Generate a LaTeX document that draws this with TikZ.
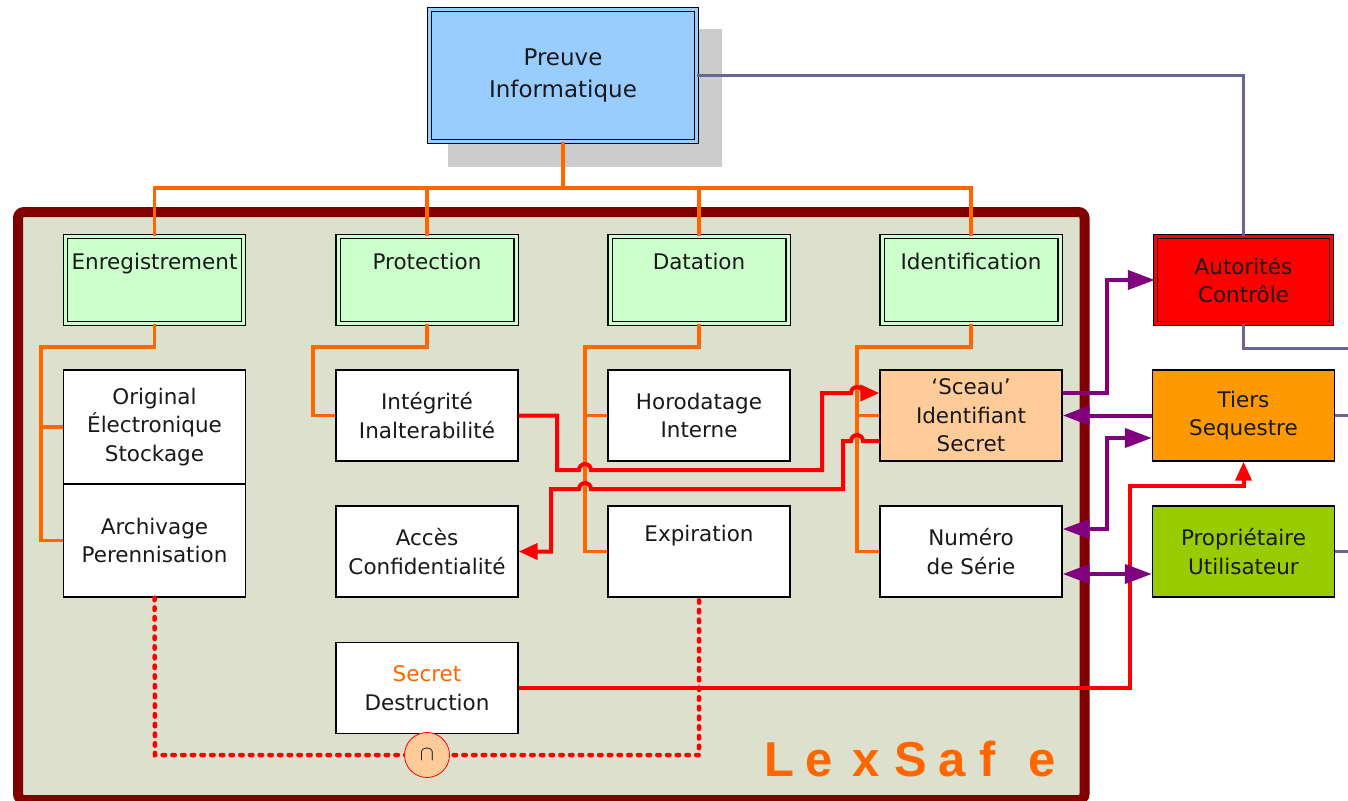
\documentclass[tikz,border=0pt]{standalone}
\usepackage{fontspec}
\setmainfont{DejaVu Sans}
\newfontfamily\lexfont{Liberation Sans}
\usetikzlibrary{arrows.meta}
\definecolor{lsorange}{HTML}{FF6600}
\definecolor{lsred}{HTML}{FF0000}
\definecolor{lspurple}{HTML}{800080}
\definecolor{lsslate}{HTML}{666699}
\definecolor{lsframe}{HTML}{800000}
\definecolor{lsbg}{HTML}{DDE0CC}
\definecolor{lsgreen}{HTML}{CCFFCC}
\definecolor{lsblue}{HTML}{99CCFF}
\definecolor{lspeach}{HTML}{FFCC99}
\definecolor{lsamber}{HTML}{FF9900}
\definecolor{lslime}{HTML}{99CC00}
\definecolor{lsshadow}{HTML}{CCCCCC}
\begin{document}
\begin{tikzpicture}[x=1pt,y=-1pt,
  boxtext/.style={font=\fontsize{21.5}{28.5}\selectfont, align=center, inner sep=0pt, text=black!90},
  wbox/.style={boxtext, draw=black, line width=1.4, fill=white, minimum width=182, minimum height=91},
  gbox/.style={boxtext, draw=black, line width=1.2, double=lsgreen, double distance=3, fill=lsgreen, minimum width=178, minimum height=87},
  orangeline/.style={draw=lsorange, line width=3.3},
  redline/.style={draw=lsred, line width=4},
  dotline/.style={draw=lsred, line width=4.5, dash pattern=on 2.5pt off 7.2pt, line cap=round},
  purpleline/.style={draw=lspurple, line width=4},
  slateline/.style={draw=lsslate, line width=3},
  redtip/.style={-{Triangle[length=19pt,width=16pt]}},
  ptip/.style={-{Triangle[length=27pt,width=19pt]}},
  pboth/.style={{Triangle[length=27pt,width=19pt]}-{Triangle[length=27pt,width=19pt]}},
  lexletter/.style={font=\lexfont\bfseries\fontsize{49}{49}\selectfont, text=lsorange, anchor=base, inner sep=0pt}
]
\useasboundingbox (0,0) rectangle (1348,800);
\fill[white] (0,0) rectangle (1348,800);

% LexSafe frame
\draw[line width=10, draw=lsframe, fill=lsbg, rounded corners=6] (18,212) rectangle (1084.5,800);

% shadow of the top box
\fill[lsshadow] (448,29) rectangle (722,167);

% top box
\node[boxtext, font=\fontsize{23}{32}\selectfont, draw=black, line width=1.3, double=lsblue, double distance=3, fill=lsblue, minimum width=267, minimum height=132] (preuve) at (563,75.5) {Preuve\\Informatique};

% green boxes
\node[gbox] (enreg) at (154.5,280) {Enregistrement\\\strut};
\node[gbox] (protec) at (427,280) {Protection\\\strut};
\node[gbox] (datat) at (699,280) {Datation\\\strut};
\node[gbox] (ident) at (971,280) {Identification\\\strut};

% white boxes
\node[wbox, minimum height=114] (orig) at (154.5,427) {Original\\Électronique\\Stockage};
\node[wbox, minimum height=113] (arch) at (154.5,540.5) {Archivage\\Perennisation};
\node[wbox] (integ) at (427,415.5) {Intégrité\\Inalterabilité};
\node[wbox] (acces) at (427,551.5) {Accès\\Confidentialité};
\node[wbox] (horo) at (699,415.5) {Horodatage\\Interne};
\node[wbox] (expir) at (699,551.5) {Expiration\\\strut};
\node[wbox, fill=lspeach] (sceau) at (971,415.5) {‘Sceau’\\Identifiant\\Secret};
\node[wbox] (numero) at (971,551.5) {Numéro\\de Série};
\node[wbox] (secret) at (427,688) {{\color{lsorange}Secret}\\Destruction};

% right boxes
\node[boxtext, draw=black, line width=1.3, double=lsred, double distance=3, fill=lsred, minimum width=176, minimum height=87] (autor) at (1243.5,280) {Autorités\\Contrôle};
\node[wbox, fill=lsamber] (tiers) at (1243.5,415.5) {Tiers\\Sequestre};
\node[wbox, fill=lslime] (propr) at (1243.5,551.5) {Propriétaire\\Utilisateur};

% coordinates
\coordinate (bus) at (563,188);
\coordinate (edgeR) at (1360,0);

% orange tree
\draw[orangeline] (preuve.south) -- (bus);
\draw[orangeline] (enreg.north) |- (bus);
\draw[orangeline] (ident.north) |- (bus);
\draw[orangeline] (protec.north) -- (protec.north |- bus);
\draw[orangeline] (datat.north) -- (datat.north |- bus);

\draw[orangeline] (enreg.south) |- (41,347) |- (orig.west);
\draw[orangeline] (41,427) |- (arch.west);
\draw[orangeline] (protec.south) |- (313,347) |- (integ.west);
\draw[orangeline] (datat.south) |- (585,347) |- (horo.west);
\draw[orangeline] (585,415.5) |- (expir.west);
\draw[orangeline] (ident.south) |- (857,347) |- (sceau.west);
\draw[orangeline] (857,415.5) |- (numero.west);

% red connectors with jumps
\draw[redline, redtip] (integ.east) -- (557,415.5) -- (557,470) -- (579,470)
  arc[start angle=180, end angle=0, radius=6pt] -- (822,470) -- (822,393) -- (851,393)
  arc[start angle=180, end angle=0, radius=6pt] -- ([yshift=22.5pt]sceau.west);
\draw[redline, redtip] ([yshift=-25.5pt]sceau.west) -- (863,441)
  arc[start angle=0, end angle=180, radius=6pt] -- (843,441) -- (843,489) -- (591,489)
  arc[start angle=0, end angle=180, radius=6pt] -- (551,489) -- (551,551.5) -- (acces.east);
\draw[redline, redtip] (secret.east) -- (1130,688) -- (1130,486) -- (1243.5,486) -- (tiers.south);

% dotted red link
\draw[dotline] (arch.south) -- (155,755) -- (699,755) -- (expir.south);
\node[circle, draw=lsred, fill=lspeach, minimum size=45, inner sep=0pt, line width=0.8, font=\fontsize{20}{20}\selectfont] (inter) at (427,755) {$\cap$};

% purple connectors
\draw[purpleline, ptip] ([yshift=22.5pt]sceau.east) -| (1107,280) -- (autor.west);
\draw[purpleline, ptip] (tiers.west) -- (sceau.east);
\draw[purpleline, pboth] ([yshift=22.5pt]numero.east) -| (1107,438) -- ([yshift=-22.5pt]tiers.west);
\draw[purpleline, pboth] ([yshift=-22.5pt]numero.east) -- ([yshift=-22.5pt]propr.west);

% slate connectors
\draw[slateline] (preuve.east) -| (autor.north);
\draw[slateline] (autor.south) |- (1360,348);
\draw[slateline] (tiers.east) -- (tiers.east -| edgeR);
\draw[slateline] (propr.east) -- (propr.east -| edgeR);

% LexSafe
\node[lexletter] (l1) at (779,776.7) {L};
\node[lexletter] (l2) at (819,776.7) {e};
\node[lexletter] (l3) at (866,776.7) {x};
\node[lexletter] (l4) at (911,776.7) {S};
\node[lexletter] (l5) at (952,776.7) {a};
\node[lexletter] (l6) at (988,776.7) {f};
\node[lexletter] (l7) at (1042,776.7) {e};
\end{tikzpicture}
\end{document}
